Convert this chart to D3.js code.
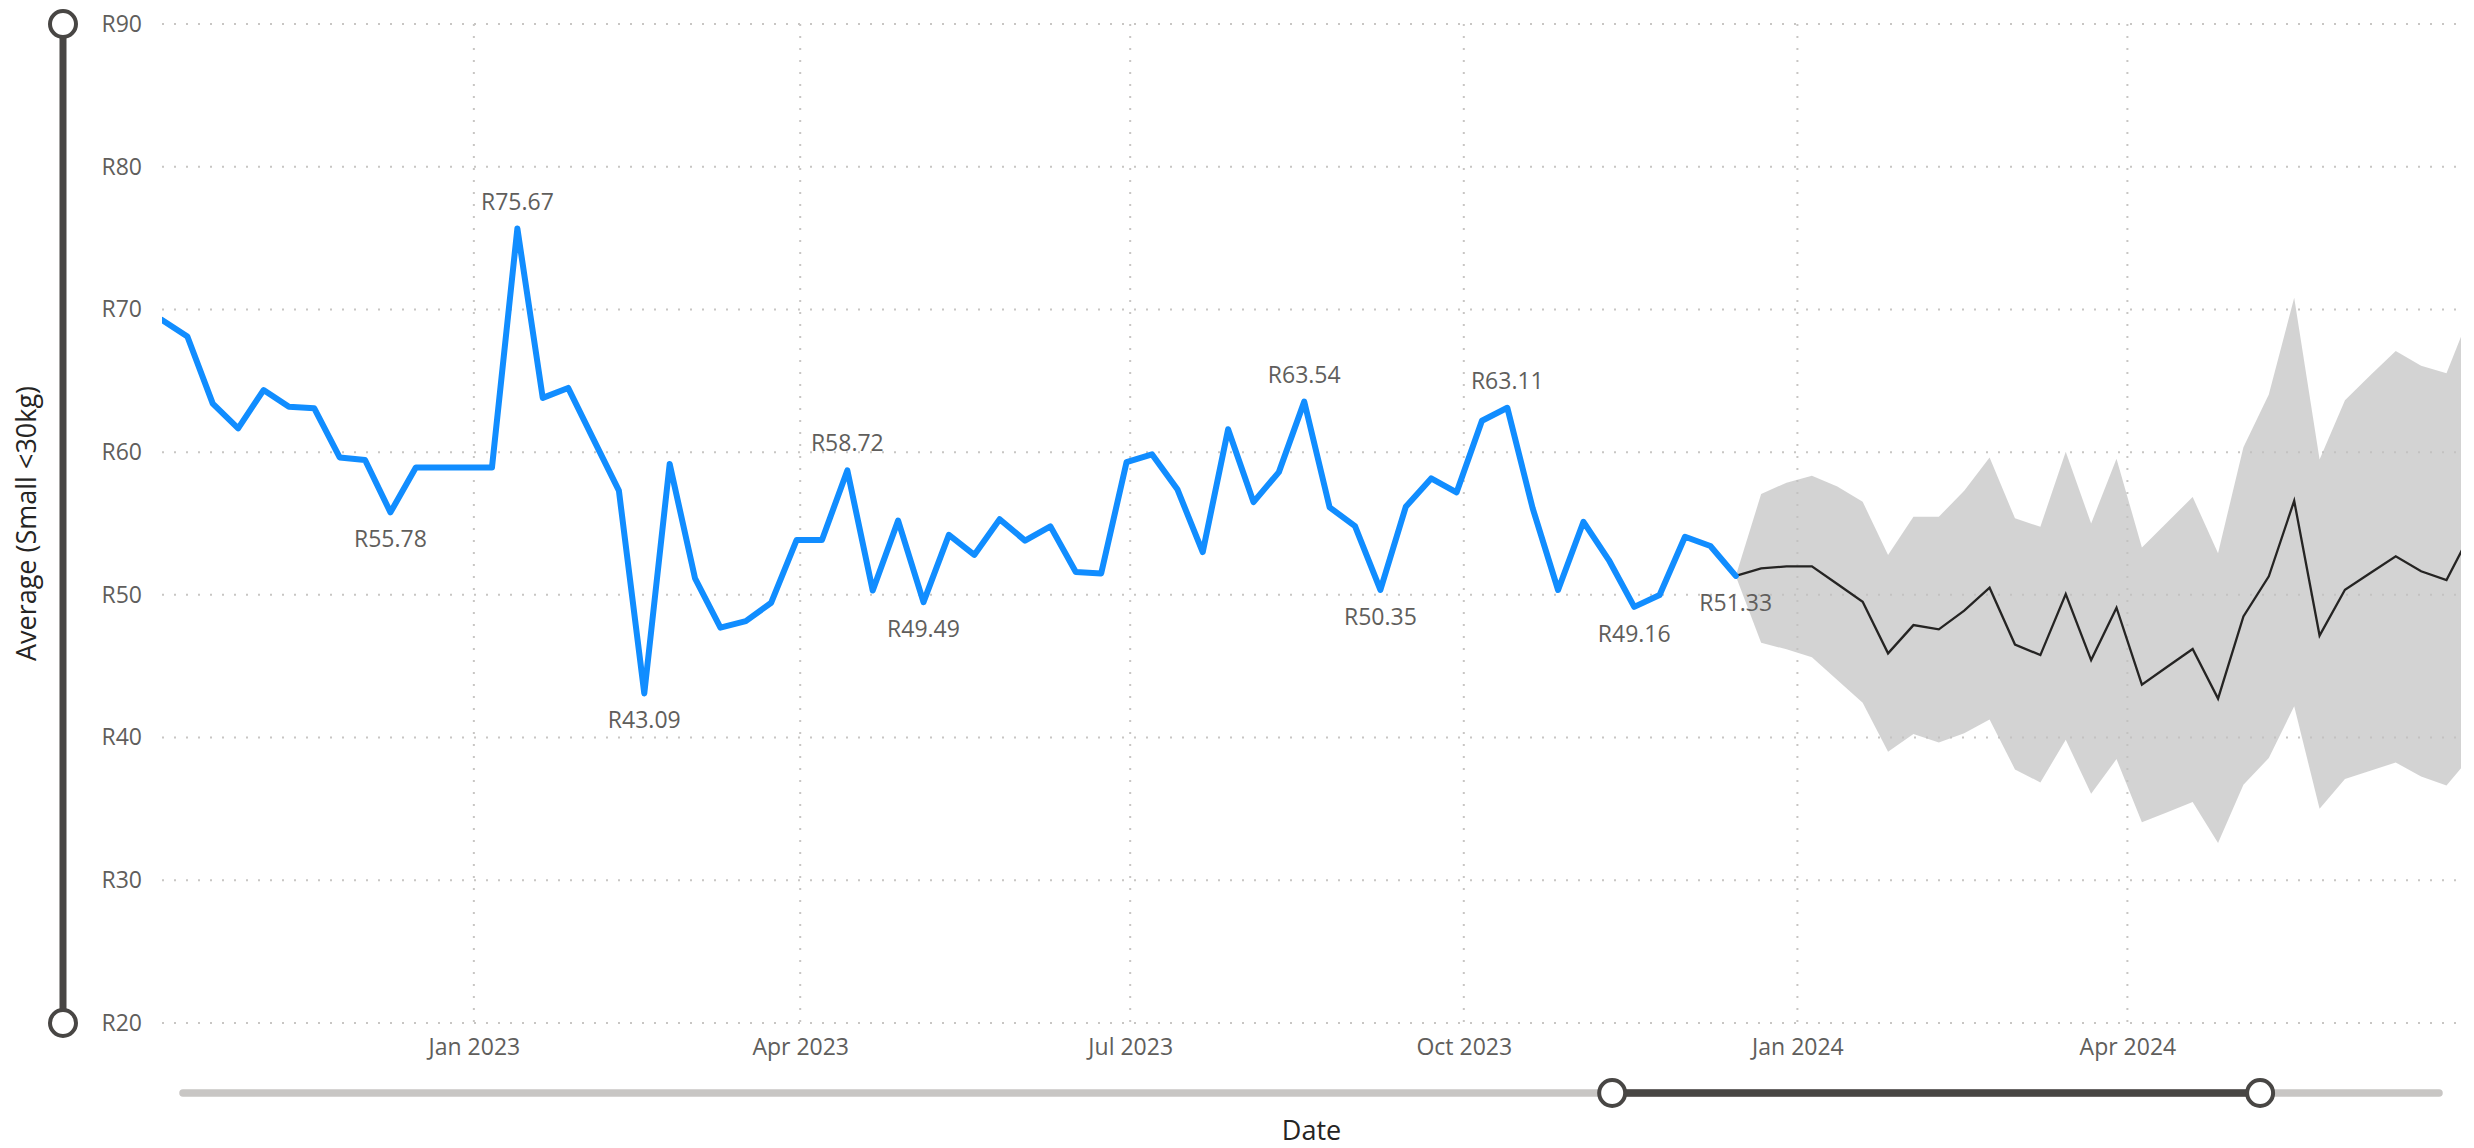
<!DOCTYPE html>
<html>
<head>
<meta charset="utf-8">
<script src="https://cdn.jsdelivr.net/npm/d3@7"></script>
<style>
  body { margin: 0; background: #fff; }
  text { font-family: "Open Sans", "Noto Sans", sans-serif; }
</style>
</head>
<body>
<svg id="chart" width="2474" height="1148"></svg>
<script>
// weekly averages (actual), first week
const actualStart = "2022-10-07";
const actualValues = [69.26, 68.1, 63.4, 61.67, 64.35, 63.18, 63.07, 59.63, 59.45, 55.78,
  58.93, 58.93, 58.93, 58.93, 75.67, 63.8, 64.5, 60.9, 57.3, 43.09,
  59.17, 51.16, 47.7, 48.16, 49.45, 53.84, 53.84, 58.72, 50.3, 55.2,
  49.49, 54.2, 52.8, 55.3, 53.8, 54.8, 51.6, 51.5, 59.3, 59.85,
  57.4, 53.0, 61.6, 56.5, 58.6, 63.54, 56.13, 54.82, 50.35, 56.17,
  58.16, 57.18, 62.2, 63.11, 56.06, 50.34, 55.12, 52.44, 49.16, 49.99,
  54.07, 53.42, 51.33];

// forecast with confidence band
const forecastStart = "2023-12-15";
const forecastValues = [51.33, 51.85, 52.0, 52.0, 50.76, 49.52, 45.9, 47.88, 47.58, 48.9,
  50.5, 46.52, 45.78, 50.05, 45.43, 49.1, 43.71, 44.96, 46.21, 42.73,
  48.49, 51.3, 56.59, 47.15, 50.36, 51.53, 52.7, 51.65, 51.04, 54.47];
const forecastUpper = [51.33, 57.06, 57.86, 58.35, 57.6, 56.52, 52.79, 55.47, 55.47, 57.3,
  59.63, 55.36, 54.77, 60.03, 55.0, 59.54, 53.32, 55.09, 56.86, 52.92,
  60.35, 64.04, 70.81, 59.49, 63.64, 65.39, 67.08, 66.06, 65.52, 70.0];
const forecastLower = [51.33, 46.65, 46.18, 45.62, 44.03, 42.44, 39.0, 40.25, 39.65, 40.3,
  41.27, 37.77, 36.86, 39.84, 36.07, 38.49, 34.06, 34.76, 35.48, 32.61,
  36.69, 38.57, 42.19, 35.02, 37.09, 37.68, 38.25, 37.28, 36.64, 38.76];

// data labels shown on the actual line
const labelIndex = [9, 14, 19, 27, 30, 45, 48, 53, 58, 62];
const labelSide = ["below", "above", "below", "above", "below", "above", "below", "above", "below", "below"];

const xTickDates = ["2023-01-01", "2023-04-01", "2023-07-01", "2023-10-01", "2024-01-01", "2024-04-01"];
const yTicks = [20, 30, 40, 50, 60, 70, 80, 90];
const xDomain = ["2022-10-07", "2024-07-02"];

const parse = d3.utcParse("%Y-%m-%d");
const weekly = (start, vals) => vals.map((v, i) => ({ date: d3.utcDay.offset(parse(start), 7 * i), value: v }));

const actual = weekly(actualStart, actualValues);
const forecast = weekly(forecastStart, forecastValues).map((d, i) => ({
  ...d, upper: forecastUpper[i], lower: forecastLower[i]
}));

const svg = d3.select("#chart");
const margin = { left: 162, right: 2461, top: 24, bottom: 1023 };

const x = d3.scaleUtc().domain(xDomain.map(parse)).range([margin.left, margin.right]);
const y = d3.scaleLinear().domain([20, 90]).range([margin.bottom, margin.top]);

svg.append("defs").append("clipPath").attr("id", "plot")
  .append("rect").attr("x", margin.left).attr("y", 0)
  .attr("width", margin.right - margin.left).attr("height", 1100);

// gridlines
const grid = svg.append("g").attr("stroke", "#c8c6c4").attr("stroke-width", 2).attr("stroke-dasharray", "2,10");
grid.selectAll(".h").data(yTicks).join("line")
  .attr("x1", margin.left).attr("x2", margin.right)
  .attr("y1", d => y(d)).attr("y2", d => y(d));
grid.selectAll(".v").data(xTickDates).join("line")
  .attr("x1", d => x(parse(d))).attr("x2", d => x(parse(d)))
  .attr("y1", margin.top).attr("y2", margin.bottom);

// y axis labels
const yAxis = svg.append("g")
  .attr("transform", `translate(${margin.left - 20},0)`)
  .call(d3.axisLeft(y).tickValues(yTicks).tickSize(0).tickFormat(d => "R" + d));
yAxis.select(".domain").remove();
yAxis.selectAll("text").attr("font-size", 23).attr("fill", "#605e5c").attr("x", 0)
  .style("font-family", "'Open Sans', sans-serif");

// x axis labels
const xAxis = svg.append("g")
  .attr("transform", `translate(0,${margin.bottom})`)
  .call(d3.axisBottom(x).tickValues(xTickDates.map(parse)).tickSize(0).tickFormat(d3.utcFormat("%b %Y")));
xAxis.select(".domain").remove();
xAxis.selectAll("text").attr("font-size", 23).attr("fill", "#605e5c").attr("y", 32).attr("dy", 0)
  .style("font-family", "'Open Sans', sans-serif");

const plot = svg.append("g").attr("clip-path", "url(#plot)");

// forecast band
plot.append("path")
  .datum(forecast)
  .attr("fill", "#c0c0c0")
  .attr("fill-opacity", 0.7)
  .attr("d", d3.area().x(d => x(d.date)).y0(d => y(d.lower)).y1(d => y(d.upper)));

// forecast line
plot.append("path")
  .datum(forecast)
  .attr("fill", "none")
  .attr("stroke", "#252423")
  .attr("stroke-width", 2.3)
  .attr("d", d3.line().x(d => x(d.date)).y(d => y(d.value)));

// actual line
plot.append("path")
  .datum(actual)
  .attr("fill", "none")
  .attr("stroke", "#118dff")
  .attr("stroke-width", 6)
  .attr("stroke-linejoin", "round")
  .attr("stroke-linecap", "round")
  .attr("d", d3.line().x(d => x(d.date)).y(d => y(d.value)));

// data labels
svg.append("g").selectAll("text")
  .data(labelIndex.map((idx, i) => ({ d: actual[idx], side: labelSide[i] })))
  .join("text")
  .attr("x", l => x(l.d.date))
  .attr("y", l => y(l.d.value) + (l.side === "above" ? -19 : 35))
  .attr("text-anchor", "middle")
  .attr("font-size", 23)
  .attr("fill", "#605e5c")
  .text(l => "R" + l.d.value.toFixed(2));

// axis titles
svg.append("text")
  .attr("transform", `translate(36,${(margin.top + margin.bottom) / 2}) rotate(-90)`)
  .attr("text-anchor", "middle")
  .attr("font-size", 27)
  .attr("fill", "#252423")
  .text("Average (Small <30kg)");

svg.append("text")
  .attr("x", (margin.left + margin.right) / 2)
  .attr("y", 1140)
  .attr("text-anchor", "middle")
  .attr("font-size", 27)
  .attr("fill", "#252423")
  .text("Date");

// zoom sliders
const sliderDark = "#484644", sliderLight = "#c8c6c4";
const vx = 63;
svg.append("line").attr("x1", vx).attr("x2", vx).attr("y1", y(90)).attr("y2", y(20))
  .attr("stroke", sliderDark).attr("stroke-width", 7);
svg.selectAll(".vh").data([90, 20]).join("circle")
  .attr("cx", vx).attr("cy", d => y(d)).attr("r", 13)
  .attr("fill", "#fff").attr("stroke", sliderDark).attr("stroke-width", 4);

const track = d3.scaleLinear().domain([0, 1]).range([183, 2439]);
const handles = [0.6335, 0.9207];
const hy = 1093;
svg.append("line").attr("x1", track(0)).attr("x2", track(1)).attr("y1", hy).attr("y2", hy)
  .attr("stroke", sliderLight).attr("stroke-width", 7.5).attr("stroke-linecap", "round");
svg.append("line").attr("x1", track(handles[0])).attr("x2", track(handles[1])).attr("y1", hy).attr("y2", hy)
  .attr("stroke", sliderDark).attr("stroke-width", 7.5);
svg.selectAll(".hh").data(handles).join("circle")
  .attr("cx", d => track(d)).attr("cy", hy).attr("r", 13)
  .attr("fill", "#fff").attr("stroke", sliderDark).attr("stroke-width", 4);
</script>
</body>
</html>
